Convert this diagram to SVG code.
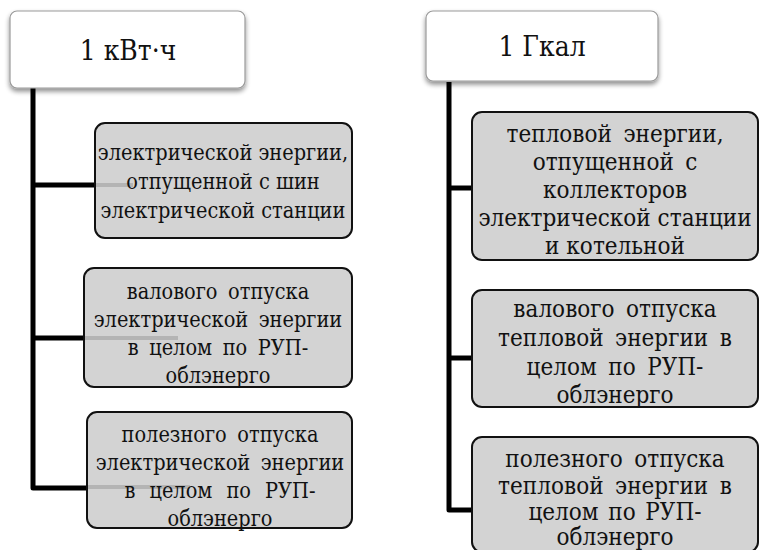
<svg xmlns="http://www.w3.org/2000/svg" width="767" height="550" viewBox="0 0 767 550">
  <defs>
    <filter id="shadow" x="-10%" y="-20%" width="120%" height="150%">
      <feGaussianBlur in="SourceAlpha" stdDeviation="2.5"/>
      <feOffset dx="0" dy="3" result="b"/>
      <feComponentTransfer><feFuncA type="linear" slope="0.45"/></feComponentTransfer>
      <feMerge><feMergeNode/><feMergeNode in="SourceGraphic"/></feMerge>
    </filter>
  </defs>
  <style>
    .head { fill: #ffffff; stroke: #9a9a9a; stroke-width: 1.2; }
    .item { fill: #d3d3d3; stroke: #111111; stroke-width: 2; }
    .wire { fill: none; stroke: #000000; stroke-width: 5; stroke-linejoin: round; }
    .ghost { stroke: #b4b4b4; stroke-width: 4; }
    .lbl { fill: #111111; text-anchor: middle; font-family: "DejaVu Serif", serif; }
    .ht { font-size: 27px; }
    .lt { font-size: 22px; }
    .rt { font-size: 23.5px; }
  </style>

  <!-- connectors -->
  <g id="connectors">
    <path class="wire" d="M33,88 V488 H87"/>
    <path class="wire" d="M33,185 H95"/>
    <path class="wire" d="M33,338 H84"/>
    <path class="wire" d="M449,82 V510 H472"/>
    <path class="wire" d="M449,188 H472"/>
    <path class="wire" d="M449,358 H472"/>
  </g>

  <!-- left column -->
  <g id="kwh">
    <rect class="head" x="10" y="11" width="235" height="77" rx="7" filter="url(#shadow)"/>
    <g transform="translate(128 0) scale(0.93 1)">
      <text class="lbl ht" x="0" y="60">1 кВт·ч</text>
    </g>
  </g>
  <g id="kwh-station">
    <rect class="item" x="95" y="123" width="257" height="115" rx="10"/>
    <line class="ghost" x1="96" y1="185" x2="133" y2="185"/>
    <g transform="translate(223 0) scale(0.88 1)">
      <text class="lbl lt" x="0" y="160">электрической энергии,</text>
      <text class="lbl lt" x="0" y="189">отпущенной с шин</text>
      <text class="lbl lt" x="0" y="218">электрической станции</text>
    </g>
  </g>
  <g id="kwh-gross">
    <rect class="item" x="84" y="268" width="268" height="119" rx="10"/>
    <line class="ghost" x1="85" y1="338" x2="178" y2="338"/>
    <g transform="translate(218 0) scale(0.88 1)">
      <text class="lbl lt" x="0" y="299" word-spacing="5">валового отпуска</text>
      <text class="lbl lt" x="0" y="327" word-spacing="5">электрической энергии</text>
      <text class="lbl lt" x="0" y="355" word-spacing="5">в целом по РУП-</text>
      <text class="lbl lt" x="0" y="383">облэнерго</text>
    </g>
  </g>
  <g id="kwh-useful">
    <rect class="item" x="87" y="412" width="265" height="116" rx="10"/>
    <line class="ghost" x1="88" y1="487" x2="190" y2="487"/>
    <g transform="translate(220 0) scale(0.88 1)">
      <text class="lbl lt" x="0" y="442" word-spacing="5">полезного отпуска</text>
      <text class="lbl lt" x="0" y="470" word-spacing="5">электрической энергии</text>
      <text class="lbl lt" x="0" y="498" word-spacing="9">в целом по  РУП-</text>
      <text class="lbl lt" x="0" y="526">облэнерго</text>
    </g>
  </g>

  <!-- right column -->
  <g id="gcal">
    <rect class="head" x="426" y="11" width="232" height="70" rx="7" filter="url(#shadow)"/>
    <g transform="translate(542 0) scale(0.93 1)">
      <text class="lbl ht" x="0" y="56">1 Гкал</text>
    </g>
  </g>
  <g id="gcal-station">
    <rect class="item" x="472" y="112" width="286" height="148" rx="10"/>
    <g transform="translate(615 0) scale(0.92 1)">
      <text class="lbl rt" x="0" y="142" word-spacing="5">тепловой энергии,</text>
      <text class="lbl rt" x="0" y="170" word-spacing="5">отпущенной с</text>
      <text class="lbl rt" x="0" y="198">коллекторов</text>
      <text class="lbl rt" x="0" y="226">электрической станции</text>
      <text class="lbl rt" x="0" y="254">и котельной</text>
    </g>
  </g>
  <g id="gcal-gross">
    <rect class="item" x="472" y="290" width="286" height="117" rx="10"/>
    <g transform="translate(615 0) scale(0.92 1)">
      <text class="lbl rt" x="0" y="317" word-spacing="5">валового отпуска</text>
      <text class="lbl rt" x="0" y="346" word-spacing="5">тепловой энергии в</text>
      <text class="lbl rt" x="0" y="375" word-spacing="5">целом по РУП-</text>
      <text class="lbl rt" x="0" y="403">облэнерго</text>
    </g>
  </g>
  <g id="gcal-useful">
    <rect class="item" x="472" y="437" width="286" height="115" rx="10"/>
    <g transform="translate(615 0) scale(0.92 1)">
      <text class="lbl rt" x="0" y="467" word-spacing="5">полезного отпуска</text>
      <text class="lbl rt" x="0" y="494" word-spacing="5">тепловой энергии в</text>
      <text class="lbl rt" x="0" y="520" word-spacing="3">целом по РУП-</text>
      <text class="lbl rt" x="0" y="545">облэнерго</text>
    </g>
  </g>
</svg>
